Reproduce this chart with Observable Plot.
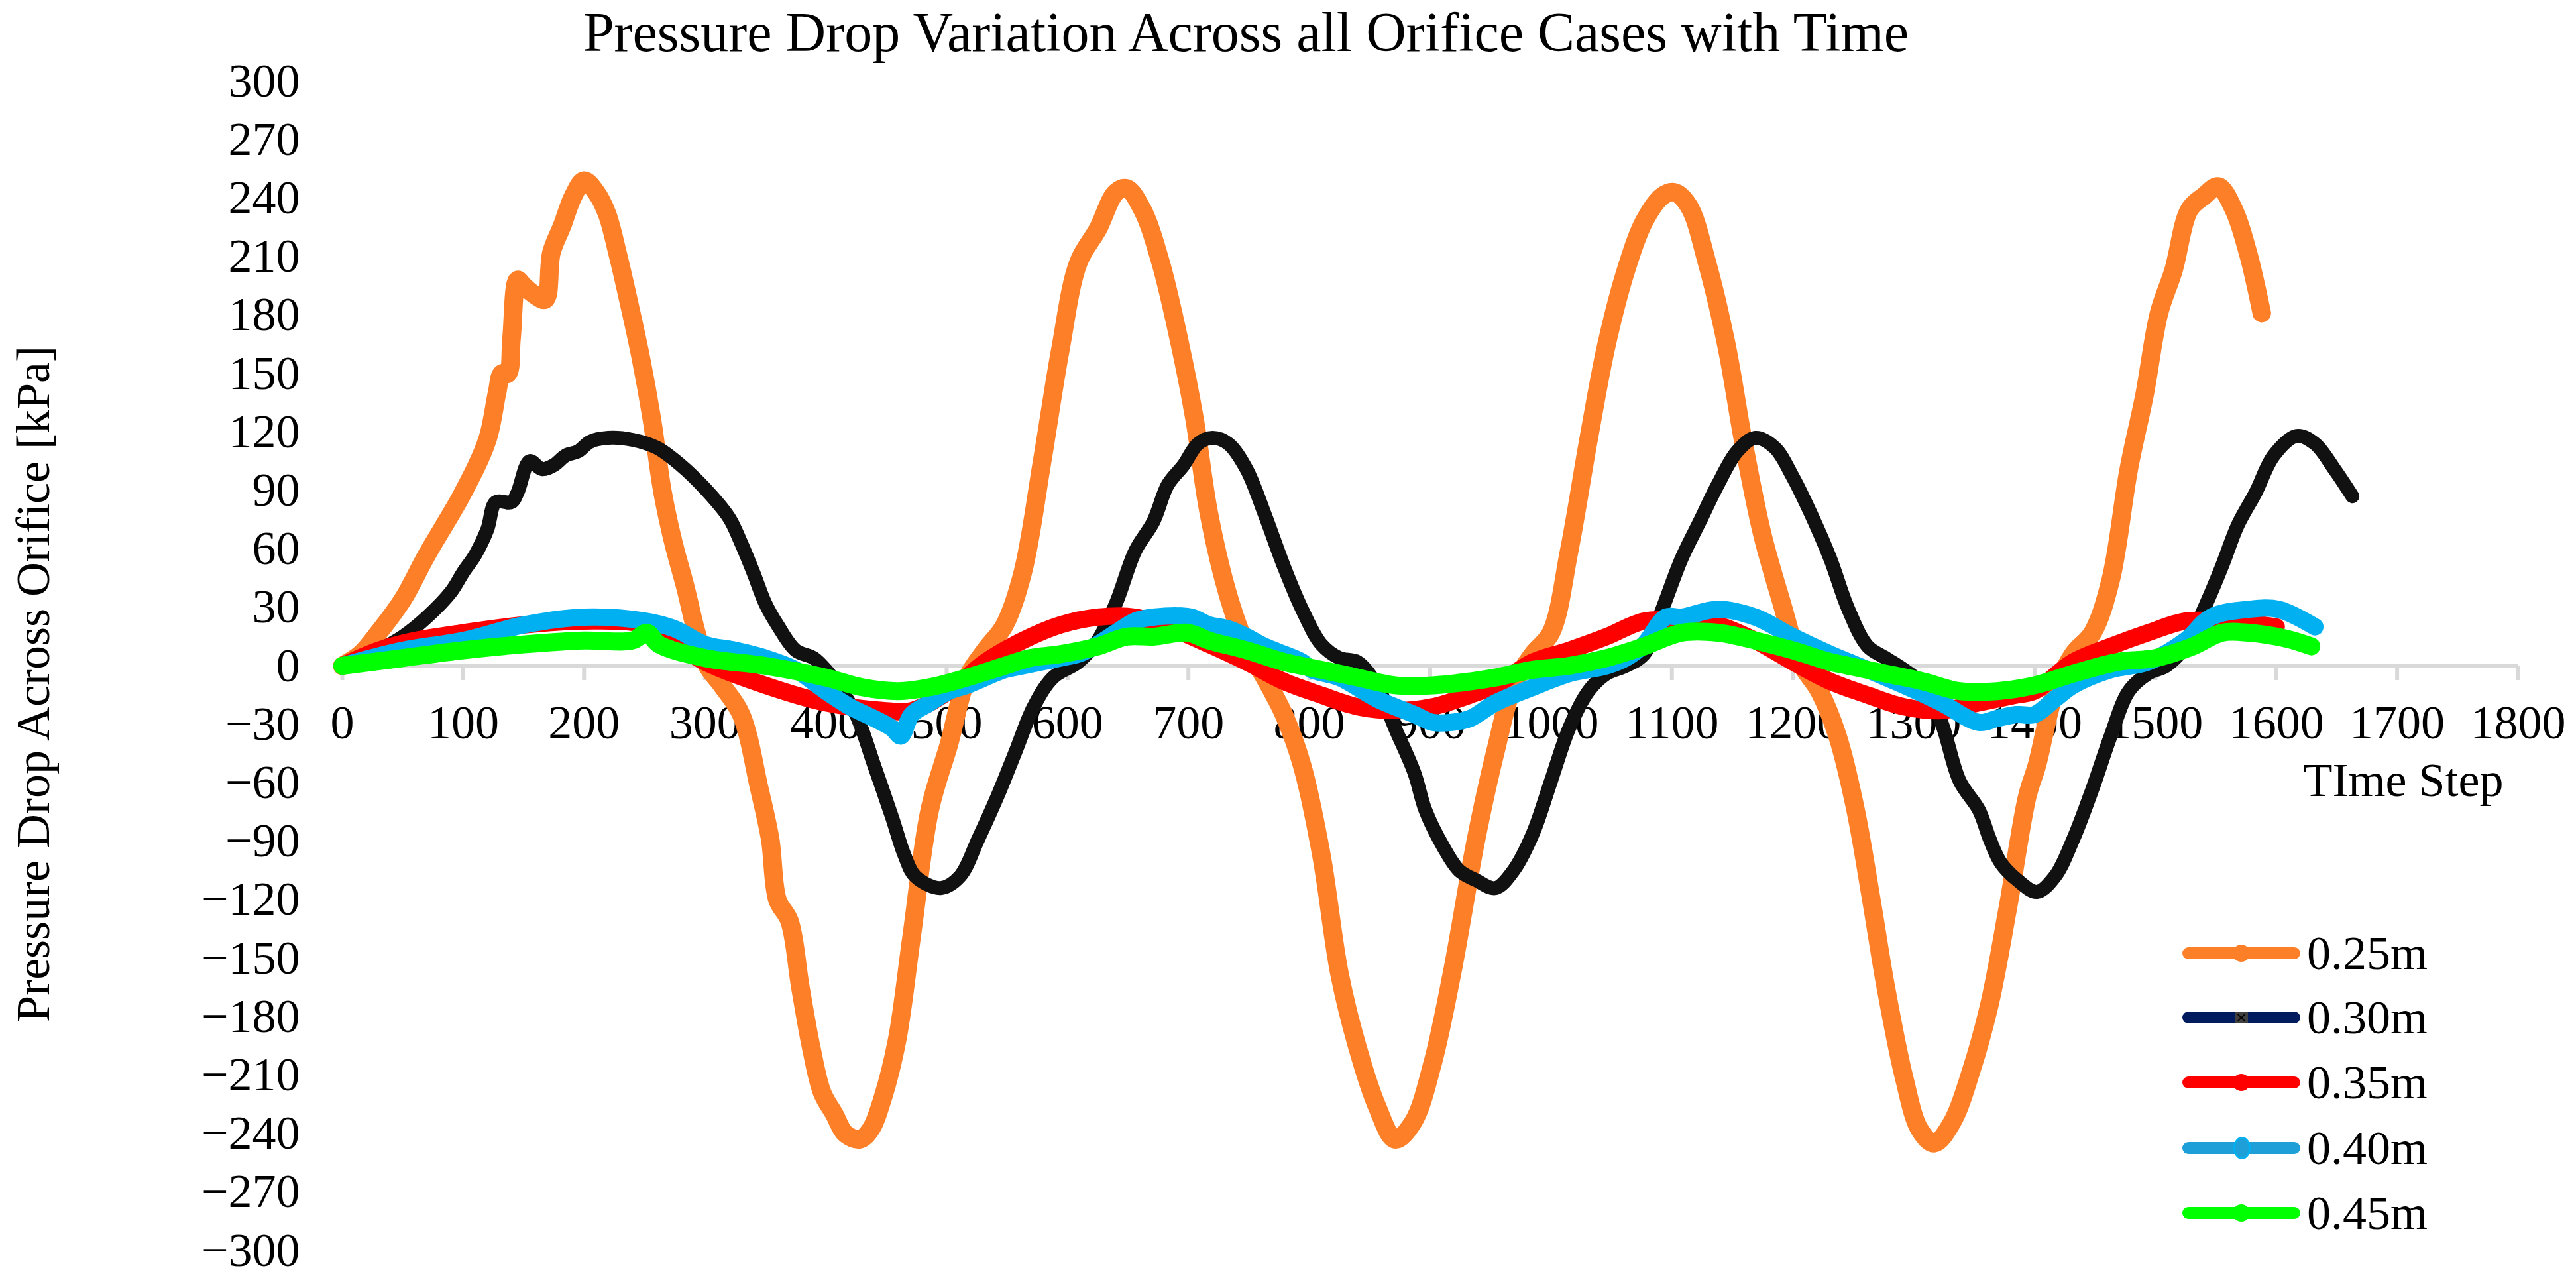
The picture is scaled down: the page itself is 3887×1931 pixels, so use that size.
<!DOCTYPE html>
<html>
<head>
<meta charset="utf-8">
<script src="https://cdn.jsdelivr.net/npm/d3@7"></script>
<script src="https://cdn.jsdelivr.net/npm/@observablehq/plot@0.6"></script>
<style>
  html, body { margin: 0; padding: 0; background: #fff; }
  #wrap { position: relative; width: 3887px; height: 1931px; font-family: "Liberation Serif", "Times New Roman", serif; color: #000; overflow: hidden; }
  #chart svg, #chart svg text { font-family: "Liberation Serif", "Times New Roman", serif !important; font-variant: normal !important; }
  #title { position: absolute; left: 0; width: 3760px; text-align: center; top: 1px; font-size: 84px; line-height: 96px; white-space: nowrap; }
  #ylab { position: absolute; left: 50px; top: 1032px; transform: translate(-50%, -50%) rotate(-90deg); font-size: 72px; white-space: nowrap; line-height: 80px; }
  #chart { position: absolute; left: 0; top: 0; }
  .lg { position: absolute; left: 3293px; width: 400px; height: 80px; }
  .lg .ln { position: absolute; left: 0; top: 31px; width: 178px; height: 18px; border-radius: 9px; }
  .lg .mk { position: absolute; left: 76px; top: 27px; width: 26px; height: 26px; border-radius: 50%; }
  .lg .tx { position: absolute; left: 188px; top: 0; font-size: 72px; line-height: 80px; white-space: nowrap; }
</style>
</head>
<body>
<div id="wrap">
  <div id="chart"></div>
  <div id="title">Pressure Drop Variation Across all Orifice Cases with Time</div>
  <div id="ylab">Pressure Drop Across Orifice [kPa]</div>
  <div id="legend"></div>
</div>
<script>
// ---- data ----
const seriesNames = ["0.25m", "0.30m", "0.35m", "0.40m", "0.45m"];
const seriesColors = ["#fd7f27", "#111111", "#ff0000", "#00b0f0", "#00ff00"];
const legendColors = ["#fd7f27", "#001a5e", "#ff0000", "#1e9fd8", "#00ff00"];
const xTicks = [0,100,200,300,400,500,600,700,800,900,1000,1100,1200,1300,1400,1500,1600,1700,1800];
const yTicks = [-300,-270,-240,-210,-180,-150,-120,-90,-60,-30,0,30,60,90,120,150,180,210,240,270,300];

const t025 = [0,15,30,50,70,100,120,128,132,137,140,145,150,160,168,173,182,191,200,210,219,228,238,247,256,265,274,284,293,302,314,330,345,354,360,370,379,388,397,407,416,428,437,447,459,471,486,502,517,532,548,563,579,594,609,625,640,649,662,677,693,705,717,733,748,763,779,794,810,825,840,856,871,886,902,918,938,954,969,985,1000,1015,1031,1046,1062,1077,1092,1102,1114,1129,1145,1160,1175,1191,1206,1222,1237,1252,1265,1277,1292,1305,1317,1332,1348,1363,1378,1394,1402,1417,1432,1448,1463,1478,1491,1503,1515,1528,1540,1552,1565,1577,1588];
const p025 = [0,6,17,34,57,89,116,140,150,150,168,198,195,190,188,212,226,241,249,243,232,211,184,158,127,89,63,40,17,0,-10,-25,-63,-89,-120,-131,-165,-196,-219,-230,-240,-243,-238,-222,-192,-139,-74,-40,-6,8,21,48,105,162,207,224,243,245,234,207,165,127,78,36,10,-6,-25,-51,-97,-158,-196,-226,-243,-234,-204,-158,-89,-44,-10,6,17,59,116,165,203,228,241,243,236,207,165,112,67,32,2,-13,-36,-74,-120,-165,-211,-238,-245,-234,-207,-173,-124,-67,-51,-13,6,17,44,101,139,181,203,234,241,246,234,211,181];

const t030 = [0,30,50,70,90,100,110,120,127,140,145,155,165,175,185,195,205,220,240,260,280,300,320,330,340,350,360,375,390,400,410,425,440,455,465,474,495,511,526,542,557,572,588,609,625,640,656,671,683,696,708,720,733,748,763,779,794,810,825,840,856,871,887,896,911,924,938,954,969,985,1000,1015,1031,1046,1062,1077,1092,1108,1123,1138,1154,1169,1185,1200,1215,1231,1246,1262,1277,1292,1308,1323,1338,1354,1363,1372,1386,1402,1417,1432,1448,1463,1478,1494,1509,1525,1540,1555,1568,1583,1598,1617,1632,1648,1663];
const p030 = [0,8,15,25,38,48,57,70,84,84,89,105,101,103,108,110,115,117,116,112,103,91,76,63,48,32,21,8,4,-2,-10,-25,-51,-78,-97,-108,-114,-108,-89,-67,-44,-21,-6,2,13,32,59,74,93,103,114,117,114,101,78,51,29,11,4,2,-10,-32,-55,-74,-93,-105,-110,-114,-105,-86,-59,-32,-13,-4,0,6,29,55,74,93,110,117,112,97,78,55,29,10,4,-2,-10,-29,-59,-74,-89,-101,-110,-116,-108,-89,-63,-36,-13,-4,0,10,29,51,72,89,108,118,114,101,87];

const t035 = [0,30,60,100,150,200,250,275,300,350,400,450,471,502,532,563,594,625,656,687,717,748,779,810,840,871,902,933,954,985,1015,1046,1077,1108,1138,1169,1200,1231,1262,1292,1323,1354,1385,1400,1432,1463,1494,1525,1555,1577,1600];
const p035 = [0,8,13,17,21,23,21,12,2,-10,-19,-23,-23,-13,2,13,21,25,25,19,11,2,-8,-15,-21,-23,-21,-15,-10,2,8,15,23,23,21,13,2,-8,-15,-21,-23,-19,-15,-13,2,10,17,23,23,22,20];

const t040 = [0,50,100,150,200,250,275,300,325,350,375,400,420,440,455,462,471,486,502,517,532,548,563,579,594,609,625,640,656,671,702,717,733,748,763,779,794,802,825,856,887,902,918,933,954,985,1015,1046,1062,1077,1095,1108,1138,1169,1200,1231,1262,1292,1323,1354,1369,1385,1400,1417,1432,1463,1494,1525,1546,1577,1602,1632];
const p040 = [0,8,13,21,25,23,19,11,8,4,-2,-13,-21,-27,-32,-36,-25,-19,-13,-10,-6,-2,0,2,4,6,11,17,23,25,25,21,19,15,10,6,2,-2,-6,-17,-25,-29,-29,-27,-19,-11,-4,0,4,11,25,25,29,25,15,6,-2,-10,-19,-29,-27,-25,-25,-17,-10,-2,2,13,25,29,29,20];

const t045 = [0,50,100,150,200,240,252,262,300,350,400,430,460,486,517,548,569,594,625,649,671,699,717,748,779,810,840,871,902,933,954,985,1015,1046,1077,1108,1138,1169,1200,1231,1246,1277,1308,1338,1369,1400,1432,1469,1500,1531,1555,1577,1608,1629];
const p045 = [0,4,8,11,13,13,17,11,4,0,-6,-11,-13,-11,-6,0,4,6,10,15,15,17,13,8,2,-2,-6,-10,-10,-8,-6,-2,0,4,10,17,17,13,8,2,0,-4,-8,-13,-13,-10,-4,2,4,10,17,17,14,10];

const times = [t025, t030, t035, t040, t045];
const values = [p025, p030, p035, p040, p045];
const widths = [28, 21, 26, 26, 27];

// ---- build table ----
const rows = [];
seriesNames.forEach((name, k) => {
  times[k].forEach((t, i) => rows.push({series: name, t, v: values[k][i]}));
});

const fontFam = "'Liberation Serif', 'Times New Roman', serif";
const tickLenUnits = 7.5;

const lineMarks = seriesNames.map((name, k) =>
  Plot.line(rows.filter(d => d.series === name), {
    x: "t", y: "v", stroke: seriesColors[k], strokeWidth: widths[k],
    strokeLinejoin: "round", strokeLinecap: "round", curve: "catmull-rom"
  })
);

const chart = Plot.plot({
  width: 3887,
  height: 1931,
  marginLeft: 516,
  marginRight: 88,
  marginTop: 122,
  marginBottom: 45,
  style: {fontFamily: fontFam, fontSize: "72px", color: "#000", background: "transparent"},
  x: {domain: [0, 1800], axis: null},
  y: {domain: [-300, 300], axis: null},
  marks: [
    Plot.axisY(yTicks, {tickSize: 0, tickPadding: 64, fontSize: 72, label: null, fill: "#000", fontFamily: fontFam}),
    Plot.ruleY([0], {stroke: "#d9d9d9", strokeWidth: 7}),
    Plot.ruleX(xTicks, {x: d => d, y1: 0, y2: -tickLenUnits, stroke: "#d9d9d9", strokeWidth: 6}),
    Plot.text(xTicks, {x: d => d, y: 0, dy: 86, text: d => String(d), fontSize: 72, fill: "#000", fontFamily: fontFam}),
    Plot.text(["TIme Step"], {x: 1800, y: 0, dy: 173, dx: -22, text: d => d, textAnchor: "end", fontSize: 72, fill: "#000", fontFamily: fontFam}),
    ...lineMarks
  ]
});
document.getElementById("chart").appendChild(chart);

// ---- legend ----
const legendTops = [1398, 1495, 1593, 1692, 1790];
const lg = document.getElementById("legend");
seriesNames.forEach((name, k) => {
  const row = document.createElement("div");
  row.className = "lg";
  row.style.top = legendTops[k] + "px";
  const ln = document.createElement("div");
  ln.className = "ln";
  ln.style.background = legendColors[k];
  row.appendChild(ln);
  const mk = document.createElement("div");
  mk.className = "mk";
  if (k === 1) {
    mk.style.borderRadius = "0";
    mk.style.width = "20px"; mk.style.height = "18px";
    mk.style.left = "79px"; mk.style.top = "31px";
    mk.style.background = "#404040";
    mk.style.color = "#000";
    mk.style.fontSize = "22px"; mk.style.lineHeight = "18px"; mk.style.textAlign = "center";
    mk.style.fontFamily = "DejaVu Sans";
    mk.textContent = "×";
  } else if (k === 3) {
    mk.style.background = "#1e9fd8";
    mk.style.border = "3px solid #00b0f0";
    mk.style.width = "20px"; mk.style.left = "77px";
    mk.style.height = "28px"; mk.style.top = "23px";
  } else {
    mk.style.background = legendColors[k];
  }
  row.appendChild(mk);
  const tx = document.createElement("div");
  tx.className = "tx";
  tx.textContent = name;
  row.appendChild(tx);
  lg.appendChild(row);
});
</script>
</body>
</html>
